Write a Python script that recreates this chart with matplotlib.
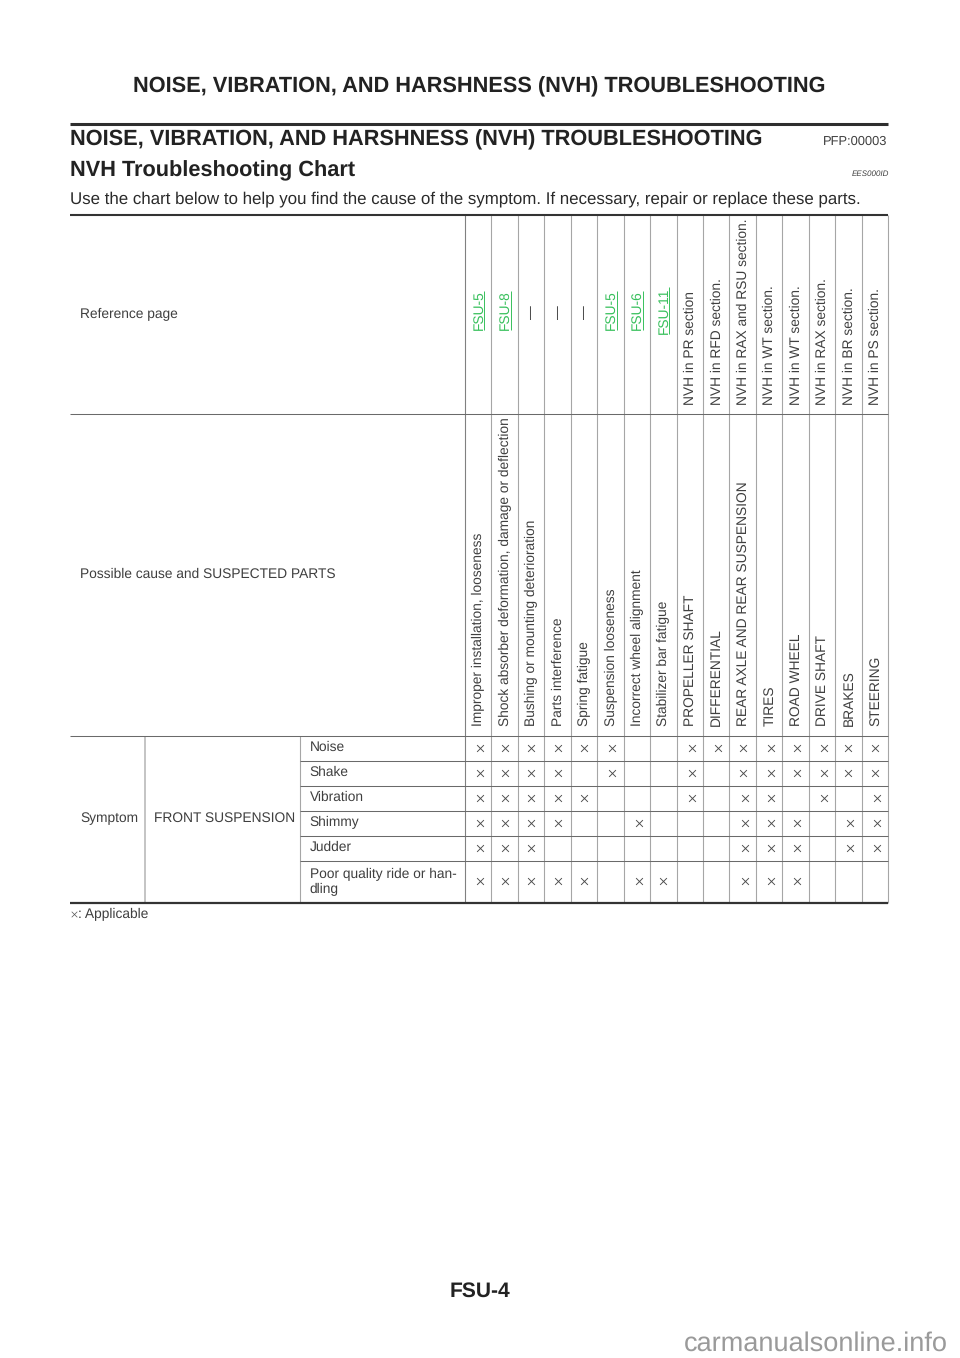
import matplotlib
matplotlib.use("Agg")
import matplotlib.pyplot as plt

plt.rcParams['font.family'] = ['Liberation Sans', 'DejaVu Sans']
plt.rcParams['text.hinting'] = 'no_hinting'

# ---- data -------------------------------------------------------------
reference_pages = ["FSU-5", "FSU-8", "—", "—", "—", "FSU-5", "FSU-6", "FSU-11",
                   "NVH in PR section", "NVH in RFD section.",
                   "NVH in RAX and RSU section.", "NVH in WT section.",
                   "NVH in WT section.", "NVH in RAX section.",
                   "NVH in BR section.", "NVH in PS section."]
causes = ["Improper installation, looseness",
          "Shock absorber deformation, damage or deflection",
          "Bushing or mounting deterioration", "Parts interference",
          "Spring fatigue", "Suspension looseness",
          "Incorrect wheel alignment", "Stabilizer bar fatigue",
          "PROPELLER SHAFT", "DIFFERENTIAL",
          "REAR AXLE AND REAR SUSPENSION", "TIRES", "ROAD WHEEL",
          "DRIVE SHAFT", "BRAKES", "STEERING"]
symptoms = ["Noise", "Shake", "Vibration", "Shimmy", "Judder",
            "Poor quality ride or han-\ndling"]
applicable = [
    [0, 1, 2, 3, 4, 5, 8, 9, 10, 11, 12, 13, 14, 15],
    [0, 1, 2, 3, 5, 8, 10, 11, 12, 13, 14, 15],
    [0, 1, 2, 3, 4, 8, 10, 11, 13, 15],
    [0, 1, 2, 3, 6, 10, 11, 12, 14, 15],
    [0, 1, 2, 10, 11, 12, 14, 15],
    [0, 1, 2, 3, 4, 6, 7, 10, 11, 12],
]
page_title = "NOISE, VIBRATION, AND HARSHNESS (NVH) TROUBLESHOOTING"
sub_title = "NVH Troubleshooting Chart"
intro = ("Use the chart below to help you find the cause of the symptom. "
         "If necessary, repair or replace these parts.")

# ---- layout (page pixels) ---------------------------------------------
L, R = 70, 888
col0, col_w = 465, (888 - 465) / 16
rows_y = [735.5, 760.5, 785.5, 810.5, 835.5, 860.5, 902.5]
x_nudge = [2, 0, 0, 0, 0, 2, 2, 0, 2, 2, 0, 2, 2, 2, 0, 0]
x_nudge_lower = {10: 2, 14: 2, 15: 2}
INK = "#3f3f3f"
HEAD = "#222222"
GRN = "#38c05c"

fig = plt.figure(figsize=(9.6, 13.58), dpi=100)
ax = fig.add_axes([0, 0, 1, 1])
ax.set_xlim(0, 960)
ax.set_ylim(1358, 0)
ax.axis("off")
fig.canvas.draw()
rend = fig.canvas.get_renderer()


def fit(t, target):
    """Scale a text so that its long side covers target pixels."""
    bb = t.get_window_extent(rend)
    t.set_fontsize(t.get_fontsize() * target / max(bb.width, bb.height))
    return t


def hline(y, x0=L, x1=R, lw=0.75, c="#6a6a6a"):
    ax.plot([x0, x1], [y, y], color=c, lw=lw, solid_capstyle="butt", zorder=2)


def vline(x, y0, y1, lw=0.8, c="#a6a6a6"):
    ax.plot([x, x], [y0, y1], color=c, lw=lw, solid_capstyle="butt", zorder=1)


# ---- headings ---------------------------------------------------------
fit(ax.text(479.5, 86.5, page_title, ha="center", va="center", fontsize=15,
            fontweight="bold", color=HEAD), 693)
hline(124, lw=2.2, c="#2e2e2e")
fit(ax.text(L, 140, page_title, ha="left", va="center", fontsize=15,
            fontweight="bold", color=HEAD), 693)
ax.text(887, 142, "PFP:00003", ha="right", va="center", fontsize=9.3, color=INK)
fit(ax.text(L, 170.5, sub_title, ha="left", va="center", fontsize=15,
            fontweight="bold", color=HEAD), 286)
ax.text(889, 174, "EES000ID", ha="right", va="center", fontsize=5.8,
        style="italic", color=INK)
fit(ax.text(L, 199, intro, ha="left", va="center", fontsize=12, color="#2a2a2a"),
    790)
hline(214.5, lw=1.5, c="#333333")

# ---- grid -------------------------------------------------------------
hline(414)
hline(rows_y[0])
for y in rows_y[1:-1]:
    hline(y, x0=300)
hline(rows_y[-1], lw=1.6, c="#333333")
for i in range(17):
    vline(col0 + i * col_w, 214.5, rows_y[-1], c="#808080" if i == 0 else "#a6a6a6")
vline(145, rows_y[0], rows_y[-1], lw=1.1, c="#b4b4b4")
vline(300, rows_y[0], rows_y[-1])

# ---- left labels ------------------------------------------------------
FS = 9.9
ax.text(80, 314, "Reference page", va="center", fontsize=FS, color=INK)
ax.text(80, 574.5, "Possible cause and SUSPECTED PARTS", va="center",
        fontsize=FS, color=INK)
ax.text(80, 818, "Symptom", va="center", fontsize=FS, color=INK)
ax.text(154, 818, "FRONT SUSPENSION", va="center", fontsize=FS, color=INK)
for r, s in enumerate(symptoms):
    if "\n" in s:
        for k, part in enumerate(s.split("\n")):
            ax.text(309.5, rows_y[r] + 14 + 15 * k, part, va="center",
                    fontsize=FS, color=INK)
    else:
        ax.text(309.5, rows_y[r] + 11.5, s, va="center", fontsize=FS, color=INK)

# ---- column headers ---------------------------------------------------
for i, (p, c) in enumerate(zip(reference_pages, causes)):
    cx = col0 + (i + 0.5) * col_w + 0.6
    ax.text(cx, 726, c, rotation=90, ha="center", va="bottom",
            fontsize=FS, color=INK)
    if p.startswith("FSU"):
        t = ax.text(cx, 310.5, p, rotation=90, ha="center", va="center",
                    fontsize=FS, color=GRN)
        bb = t.get_window_extent(rend)
        ybot, ytop = 1358 - bb.y0, 1358 - bb.y1
        ax.plot([bb.x1 - 1, bb.x1 - 1], [ybot, ytop], color=GRN, lw=0.7,
                solid_capstyle="butt")
    elif p == "—":
        ax.text(cx - 1, 312, p, rotation=90, ha="center", va="center",
                fontsize=FS, color=INK)
    else:
        ax.text(cx, 405, p, rotation=90, ha="center", va="bottom",
                fontsize=FS, color=INK)

# ---- marks ------------------------------------------------------------
for r, cols in enumerate(applicable):
    xs, ys = [], []
    for i in cols:
        nudge = x_nudge_lower.get(i, x_nudge[i]) if r >= 2 else x_nudge[i]
        xs.append(col0 + (i + 0.5) * col_w + nudge)
        ys.append((rows_y[r] + rows_y[r + 1]) / 2 - 0.5)
    ax.scatter(xs, ys, marker="x", s=24, linewidths=0.65, color="#4a4a4a", zorder=3)

# ---- note and footer --------------------------------------------------
ax.scatter([74], [914], marker="x", s=16, linewidths=0.5, color="#555555")
ax.text(77.5, 914, ": Applicable", va="center", fontsize=9.9, color=INK)
fit(ax.text(479.5, 1291, "FSU-4", ha="center", va="center", fontsize=15,
            fontweight="bold", color=HEAD), 61)
fit(ax.text(948, 1344, "carmanualsonline.info", ha="right", va="center",
            fontsize=15, color="#9a9a9a"), 265)

fig.savefig("out.png", dpi=100)
